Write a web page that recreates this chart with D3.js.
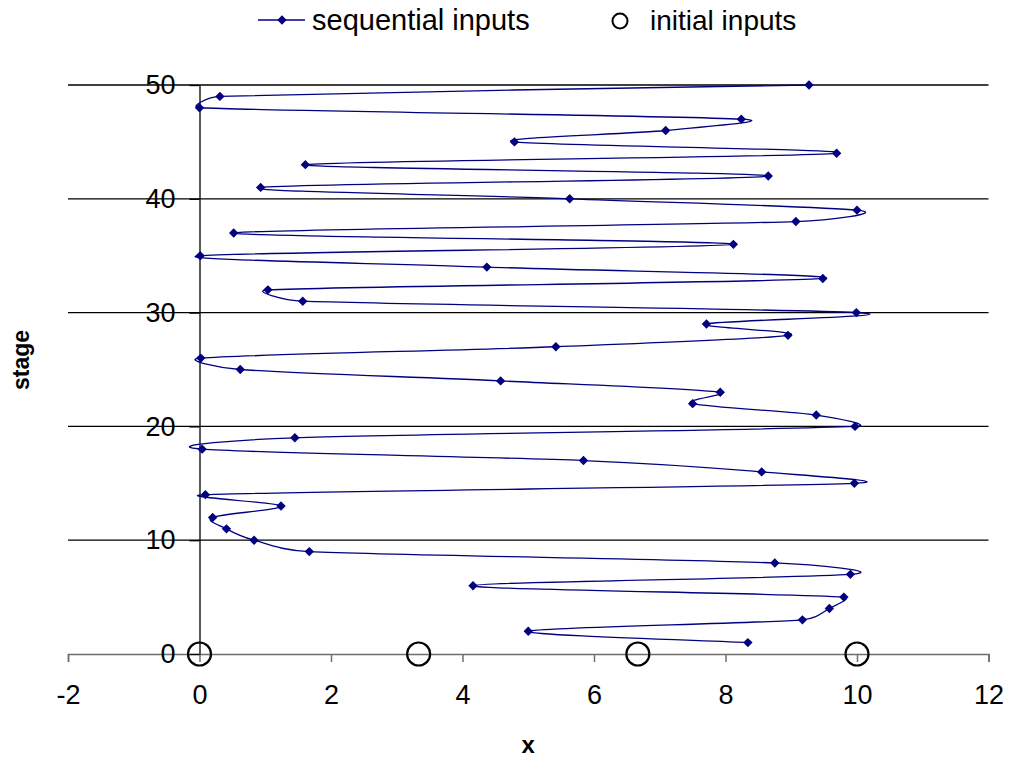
<!DOCTYPE html>
<html>
<head>
<meta charset="utf-8">
<script src="https://cdn.jsdelivr.net/npm/d3@7/dist/d3.min.js"></script>
<style>
  html, body { margin: 0; padding: 0; background: #fff; }
  svg { display: block; font-family: "Liberation Sans", Arial, sans-serif; }
</style>
</head>
<body>
<div id="chart"></div>
<script>
/* Sequential vs initial inputs — stage (y) against x, Excel-style
   smoothed line with diamond markers, open circles on the x axis. */

var stages = [1, 2, 3, 4, 5, 6, 7, 8, 9, 10,
  11, 12, 13, 14, 15, 16, 17, 18, 19, 20,
  21, 22, 23, 24, 25, 26, 27, 28, 29, 30,
  31, 32, 33, 34, 35, 36, 37, 38, 39, 40,
  41, 42, 43, 44, 45, 46, 47, 48, 49, 50];
var seqX = [8.34, 5.00, 9.17, 9.58, 9.80, 4.16, 9.90, 8.75, 1.67, 0.83,
  0.41, 0.20, 1.24, 0.09, 9.96, 8.55, 5.84, 0.04, 1.45, 9.97,
  9.38, 7.50, 7.92, 4.58, 0.62, 0.02, 5.42, 8.95, 7.71, 9.99,
  1.57, 1.04, 9.48, 4.37, 0.01, 8.12, 0.52, 9.07, 10.00, 5.63,
  0.93, 8.65, 1.61, 9.69, 4.79, 7.09, 8.24, 0.00, 0.31, 9.27];
var initX = [0, 3.333, 6.667, 10];
var initStage = [0, 0, 0, 0];
var xTicks = [-2, 0, 2, 4, 6, 8, 10, 12];
var yTicks = [0, 10, 20, 30, 40, 50];

var W = 1011, H = 763;
var navy = "#000080";
var font = "Liberation Sans, Arial, sans-serif";

var svg = d3.select("#chart").append("svg")
  .attr("width", W).attr("height", H);

var x = d3.scaleLinear().domain([-2, 12]).range([68, 988.5]);
var y = d3.scaleLinear().domain([0, 50]).range([654, 85]);

/* Horizontal gridlines (not at 0 — the x axis sits there). */
svg.append("g").selectAll("line")
  .data(yTicks.filter(function (d) { return d > 0; }))
  .join("line")
  .attr("x1", x(-2)).attr("x2", x(12))
  .attr("y1", function (d) { return y(d); })
  .attr("y2", function (d) { return y(d); })
  .attr("stroke", "#000").attr("stroke-width", 1.3);

/* X axis crossing at stage 0. */
var xAxis = d3.axisBottom(x).tickValues(xTicks).tickSize(8).tickPadding(23)
  .tickFormat(function (d) { return d < 0 ? "-" + Math.abs(d) : String(d); });
var gx = svg.append("g").attr("transform", "translate(0," + y(0) + ")").call(xAxis);
gx.select(".domain").attr("stroke", "#6e6e6e").attr("stroke-width", 1.5);
gx.selectAll(".tick line").attr("stroke", "#6e6e6e").attr("stroke-width", 1.5);
gx.selectAll(".tick text").attr("font-size", 27).attr("fill", "#000")
  .attr("font-family", font);

/* Y axis crossing at x = 0. */
var yAxis = d3.axisLeft(y).tickValues(yTicks).tickSize(10).tickPadding(14)
  .tickSizeOuter(0);
var gy = svg.append("g").attr("transform", "translate(" + x(0) + ",0)").call(yAxis);
gy.select(".domain").attr("stroke", "#000").attr("stroke-width", 1.3);
gy.selectAll(".tick line").attr("stroke", "#000").attr("stroke-width", 1.3);
gy.selectAll(".tick text").attr("font-size", 27).attr("fill", "#000")
  .attr("font-family", font);

/* Axis titles. */
svg.append("text")
  .attr("transform", "translate(29,360) rotate(-90)")
  .attr("text-anchor", "middle")
  .attr("font-size", 23).attr("font-weight", "bold")
  .text("stage");
svg.append("text")
  .attr("x", x(5)).attr("y", 753)
  .attr("text-anchor", "middle")
  .attr("font-size", 24).attr("font-weight", "bold")
  .text("x");

/* Excel-like smoothing: Catmull-Rom tangents (1/6), each control arm
   clamped to half the length of its segment, worked in pixel space. */
function excelSmooth(p) {
  var path = d3.path();
  var n = p.length;
  function dist(a, b) { return Math.hypot(b[0] - a[0], b[1] - a[1]); }
  function arm(i, dir) {
    var a = p[Math.max(0, i - 1)], b = p[Math.min(n - 1, i + 1)];
    var tx = (b[0] - a[0]) / 6 * dir, ty = (b[1] - a[1]) / 6 * dir;
    var seg = dist(p[i], p[i + dir]);
    var len = Math.hypot(tx, ty), cap = seg * 0.5;
    if (len > cap && len > 0) { tx *= cap / len; ty *= cap / len; }
    return [p[i][0] + tx, p[i][1] + ty];
  }
  path.moveTo(p[0][0], p[0][1]);
  for (var i = 0; i < n - 1; i++) {
    var c1 = arm(i, 1), c2 = arm(i + 1, -1);
    path.bezierCurveTo(c1[0], c1[1], c2[0], c2[1], p[i + 1][0], p[i + 1][1]);
  }
  return path.toString();
}

var pts = stages.map(function (s, i) { return [seqX[i], s]; });
var pix = pts.map(function (d) { return [x(d[0]), y(d[1])]; });
svg.append("path")
  .attr("d", excelSmooth(pix))
  .attr("fill", "none")
  .attr("stroke", navy)
  .attr("stroke-width", 1.3);

var diamond = d3.symbol().type(d3.symbolSquare).size(44);
svg.append("g").selectAll("path")
  .data(pts)
  .join("path")
  .attr("d", diamond)
  .attr("transform", function (d) {
    return "translate(" + x(d[0]) + "," + y(d[1]) + ") rotate(45)";
  })
  .attr("fill", navy);

/* Initial inputs — open circles. */
svg.append("g").selectAll("circle")
  .data(initX.map(function (v, i) { return [v, initStage[i]]; }))
  .join("circle")
  .attr("cx", function (d) { return x(d[0]); })
  .attr("cy", function (d) { return y(d[1]); })
  .attr("r", 11.5)
  .attr("fill", "none")
  .attr("stroke", "#000")
  .attr("stroke-width", 2.2);

/* Legend. */
var lg = svg.append("g");
lg.append("line")
  .attr("x1", 258).attr("x2", 305).attr("y1", 20).attr("y2", 20)
  .attr("stroke", navy).attr("stroke-width", 1.3);
lg.append("path").attr("d", diamond)
  .attr("transform", "translate(282,20) rotate(45)").attr("fill", navy);
lg.append("text").attr("x", 312).attr("y", 30)
  .attr("font-size", 29).text("sequential inputs");
lg.append("circle").attr("cx", 620).attr("cy", 21).attr("r", 7.5)
  .attr("fill", "none").attr("stroke", "#000").attr("stroke-width", 2);
lg.append("text").attr("x", 650).attr("y", 30)
  .attr("font-size", 28).text("initial inputs");
</script>
</body>
</html>
